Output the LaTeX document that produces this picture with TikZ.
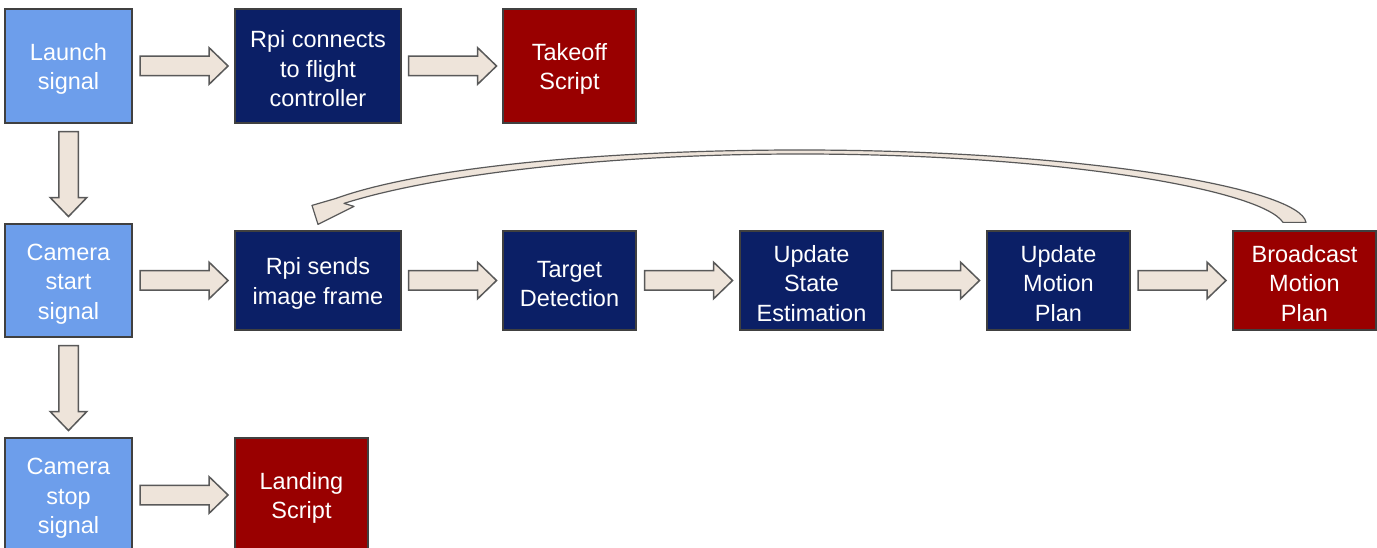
\documentclass[tikz,border=0pt]{standalone}
\usepackage{fontspec}
\setmainfont{Liberation Sans}
\usetikzlibrary{shapes.arrows,calc}
\definecolor{lblue}{HTML}{6D9EEB}
\definecolor{navy}{HTML}{0B1F66}
\definecolor{dred}{HTML}{990000}
\definecolor{afill}{HTML}{EEE4DA}
\definecolor{aline}{HTML}{595959}
\definecolor{bline}{HTML}{404040}
\newcommand\up{\rule{0pt}{23pt}}
\begin{document}
\begin{tikzpicture}[x=1pt,y=-1pt,
 box/.style={draw=bline, line width=1.2pt, text=white, align=center,
   font=\fontsize{23.5}{29.5}\selectfont, inner sep=0pt},
 sig/.style={box, fill=lblue},
 proc/.style={box, fill=navy},
 scr/.style={box, fill=dred},
 barrow/.style={single arrow, draw=aline, fill=afill, line width=1.5pt,
   inner xsep=0pt, inner ysep=9pt, minimum width=35pt, single arrow head extend=8.5pt,
   single arrow tip angle=88},
 curv/.style={draw=aline, fill=afill, line width=1.2pt, line join=round}]
\useasboundingbox (0,0) rectangle (1377,548);

% row 1
\node[sig, minimum width=127pt, minimum height=114pt] (L) at (68.5,66) {\up Launch\\signal};
\node[proc, minimum width=166pt, minimum height=114pt] (R1) at (318,66) {\up Rpi connects\\to flight\\controller};
\node[scr, minimum width=133pt, minimum height=114pt] (T) at (569.5,66) {\up Takeoff\\Script};

% row 2
\node[sig, minimum width=127pt, minimum height=113pt] (C) at (68.5,280.5) {\up Camera\\start\\signal};
\node[proc, minimum width=166pt, minimum height=99pt] (R2) at (318,280.5) {\up Rpi sends\\image frame};
\node[proc, minimum width=133pt, minimum height=99pt] (TD) at (569.5,280.5) {\up Target\\Detection};
\node[proc, minimum width=143pt, minimum height=99pt] (US) at (811.5,280.5) {\up Update\\State\\Estimation};
\node[proc, minimum width=143pt, minimum height=99pt] (UM) at (1058.5,280.5) {\up Update\\Motion\\Plan};
\node[scr, minimum width=143pt, minimum height=99pt] (B) at (1304.5,280.5) {\up Broadcast\\Motion\\Plan};

% row 3
\node[sig, minimum width=127pt, minimum height=114pt] (S) at (68.5,495) {\up Camera\\stop\\signal};
\node[scr, minimum width=133pt, minimum height=114pt] (LS) at (301.5,495) {\up Landing\\Script};

% block arrows
\path (L.east) -- ([xshift=-9pt]R1.west) node[barrow, midway, minimum height=88pt] {};
\path (R1.east) -- ([xshift=-9pt]T.west) node[barrow, midway, minimum height=88pt] {};
\path (C.east) -- ([xshift=-9pt]R2.west) node[barrow, midway, minimum height=88pt] {};
\path (R2.east) -- ([xshift=-9pt]TD.west) node[barrow, midway, minimum height=88pt] {};
\path (TD.east) -- ([xshift=-9pt]US.west) node[barrow, midway, minimum height=88pt] {};
\path (US.east) -- ([xshift=-9pt]UM.west) node[barrow, midway, minimum height=88pt] {};
\path (UM.east) -- ([xshift=-9pt]B.west) node[barrow, midway, minimum height=88pt] {};
\path (S.east) -- ([xshift=-9pt]LS.west) node[barrow, midway, minimum height=88pt] {};
\path (L.south) -- ([yshift=9pt]C.north) node[barrow, midway, rotate=-90, minimum height=85pt] {};
\path (C.south) -- ([yshift=9pt]S.north) node[barrow, midway, rotate=-90, minimum height=85pt] {};

% curved feedback arrow
\coordinate (c1) at ($(B.north)+(1.5,-8)$);
\coordinate (c2) at ($(B.north)+(-21.5,-8)$);
\coordinate (h1) at ($(R2.north)+(18,-32)$);
\coordinate (hA) at ($(R2.north)+(-6,-25)$);
\coordinate (hT) at ($(R2.north)+(0,-6)$);
\coordinate (hC) at ($(R2.north)+(36,-24)$);
\coordinate (hN) at ($(R2.north)+(26,-27)$);
\filldraw[curv] (c1) .. controls (1300,188) and (1080,150) .. (800,150)
  .. controls (600,150) and (420,168) .. (h1) -- (hA) -- (hT) -- (hC) -- (hN)
  .. controls (430,176) and (600,154) .. (800,154)
  .. controls (1060,154) and (1262,190) .. (c2) -- cycle;
\end{tikzpicture}
\end{document}
